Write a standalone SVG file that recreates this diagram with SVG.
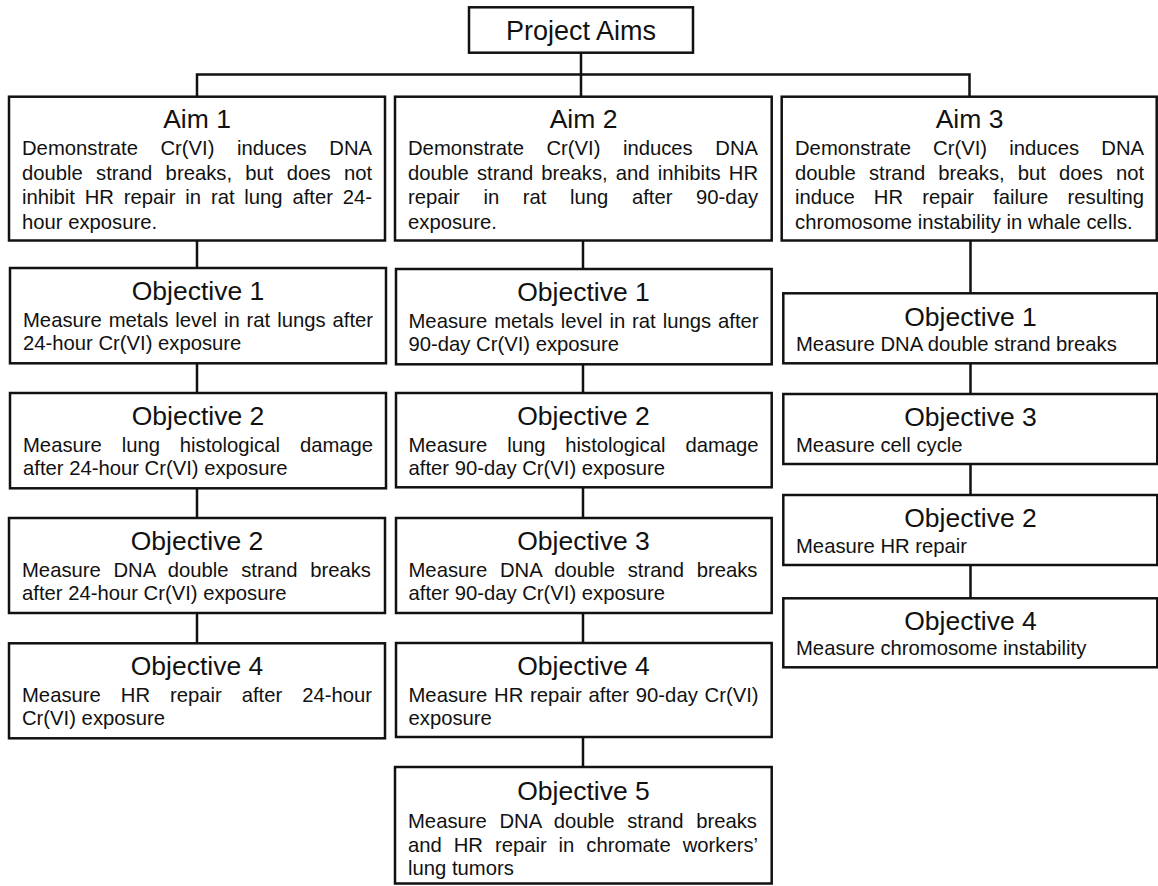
<svg xmlns="http://www.w3.org/2000/svg" width="1158" height="886" viewBox="0 0 1158 886">
<style>
.box{fill:#fff;stroke:#111;stroke-width:2.5}
.ln{fill:none;stroke:#111;stroke-width:2.5}
text{font-family:"Liberation Sans",Arial,sans-serif;fill:#111}
.t{font-size:26.5px;text-anchor:middle}
.pt{font-size:27px;text-anchor:middle}
.b{font-size:20.25px}
</style>
<rect width="1158" height="886" fill="#fff"/>
<g id="connectors">
<path class="ln" d="M581 52.7V96.7M197 96.7V74.5H969.5V96.7"/>
<path class="ln" d="M197 240.5V268M197 363.3V393M197 488.3V518M197 613V643"/>
<path class="ln" d="M583 240.5V269M583 364.3V393M583 487.3V518M583 613V643M583 738V767"/>
<path class="ln" d="M970.5 240.5V293.3M970.5 363.3V394M970.5 464V495M970.5 565V598.3"/>
</g>
<g id="project-aims">
<rect class="box" x="469" y="7.3" width="224" height="45.4"/>
<text class="pt" x="581" y="40">Project Aims</text>
</g>
<g id="aim1">
<rect class="box" x="9" y="96.7" width="376" height="143.8"/>
<text class="t" x="197" y="128">Aim 1</text>
<text class="b"><tspan x="22" y="155" word-spacing="16.89">Demonstrate Cr(VI) induces DNA</tspan><tspan x="22" y="179.5" word-spacing="7.64">double strand breaks, but does not</tspan><tspan x="22" y="204" word-spacing="4.18">inhibit HR repair in rat lung after 24-</tspan><tspan x="22" y="228.5">hour exposure.</tspan></text>
</g>
<g id="aim2">
<rect class="box" x="395" y="96.7" width="376.7" height="143.8"/>
<text class="t" x="583.5" y="128">Aim 2</text>
<text class="b"><tspan x="408" y="155" word-spacing="16.89">Demonstrate Cr(VI) induces DNA</tspan><tspan x="408" y="179.5" word-spacing="2.47">double strand breaks, and inhibits HR</tspan><tspan x="408" y="204" word-spacing="18.00">repair in rat lung after 90-day</tspan><tspan x="408" y="228.5">exposure.</tspan></text>
</g>
<g id="aim3">
<rect class="box" x="781.7" y="96.7" width="375" height="143.8"/>
<text class="t" x="969.5" y="128">Aim 3</text>
<text class="b"><tspan x="795" y="155" word-spacing="16.56">Demonstrate Cr(VI) induces DNA</tspan><tspan x="795" y="179.5" word-spacing="7.44">double strand breaks, but does not</tspan><tspan x="795" y="204" word-spacing="13.54">induce HR repair failure resulting</tspan><tspan x="795" y="228.5">chromosome instability in whale cells.</tspan></text>
</g>
<g id="a1-obj1">
<rect class="box" x="10" y="268" width="376" height="95.3"/>
<text class="t" x="198" y="300">Objective 1</text>
<text class="b"><tspan x="23" y="326.7" word-spacing="1.31">Measure metals level in rat lungs after</tspan><tspan x="23" y="350">24-hour Cr(VI) exposure</tspan></text>
</g>
<g id="a1-obj2">
<rect class="box" x="10" y="393" width="376" height="95.3"/>
<text class="t" x="198" y="425">Objective 2</text>
<text class="b"><tspan x="23" y="451.7" word-spacing="14.25">Measure lung histological damage</tspan><tspan x="23" y="475">after 24-hour Cr(VI) exposure</tspan></text>
</g>
<g id="a1-obj2b">
<rect class="box" x="9" y="518" width="376" height="95"/>
<text class="t" x="197" y="550">Objective 2</text>
<text class="b"><tspan x="22" y="576.7" word-spacing="7.03">Measure DNA double strand breaks</tspan><tspan x="22" y="600">after 24-hour Cr(VI) exposure</tspan></text>
</g>
<g id="a1-obj4">
<rect class="box" x="9" y="643.3" width="376" height="95"/>
<text class="t" x="197" y="674.5">Objective 4</text>
<text class="b"><tspan x="22" y="701.7" word-spacing="14.35">Measure HR repair after 24-hour</tspan><tspan x="22" y="725">Cr(VI) exposure</tspan></text>
</g>
<g id="a2-obj1">
<rect class="box" x="396" y="269" width="375.7" height="95.3"/>
<text class="t" x="583.5" y="301">Objective 1</text>
<text class="b"><tspan x="408.5" y="327.7" word-spacing="1.31">Measure metals level in rat lungs after</tspan><tspan x="408.5" y="351">90-day Cr(VI) exposure</tspan></text>
</g>
<g id="a2-obj2">
<rect class="box" x="396" y="393" width="375.7" height="94.3"/>
<text class="t" x="583.5" y="425">Objective 2</text>
<text class="b"><tspan x="408.5" y="451.7" word-spacing="14.25">Measure lung histological damage</tspan><tspan x="408.5" y="475">after 90-day Cr(VI) exposure</tspan></text>
</g>
<g id="a2-obj3">
<rect class="box" x="396" y="518" width="375.7" height="95"/>
<text class="t" x="583.5" y="550">Objective 3</text>
<text class="b"><tspan x="408.5" y="576.7" word-spacing="7.03">Measure DNA double strand breaks</tspan><tspan x="408.5" y="600">after 90-day Cr(VI) exposure</tspan></text>
</g>
<g id="a2-obj4">
<rect class="box" x="396" y="643" width="375.7" height="94"/>
<text class="t" x="583.5" y="674.5">Objective 4</text>
<text class="b"><tspan x="408.5" y="701.7" word-spacing="1.13">Measure HR repair after 90-day Cr(VI)</tspan><tspan x="408.5" y="725">exposure</tspan></text>
</g>
<g id="a2-obj5">
<rect class="box" x="395" y="767" width="376.7" height="116.5"/>
<text class="t" x="583.5" y="800">Objective 5</text>
<text class="b"><tspan x="408" y="828.3" word-spacing="7.03">Measure DNA double strand breaks</tspan><tspan x="408" y="851.7" word-spacing="6.31">and HR repair in chromate workers’</tspan><tspan x="408" y="875">lung tumors</tspan></text>
</g>
<g id="a3-obj1">
<rect class="box" x="783.3" y="293.3" width="374" height="70"/>
<text class="t" x="970.5" y="326">Objective 1</text>
<text class="b" x="796" y="350.7">Measure DNA double strand breaks</text>
</g>
<g id="a3-obj3">
<rect class="box" x="783.3" y="394" width="374" height="70"/>
<text class="t" x="970.5" y="426">Objective 3</text>
<text class="b" x="796" y="451.7">Measure cell cycle</text>
</g>
<g id="a3-obj2">
<rect class="box" x="783.3" y="495" width="374" height="70"/>
<text class="t" x="970.5" y="526.7">Objective 2</text>
<text class="b" x="796" y="552.7">Measure HR repair</text>
</g>
<g id="a3-obj4">
<rect class="box" x="783.3" y="598.3" width="374" height="69"/>
<text class="t" x="970.5" y="630">Objective 4</text>
<text class="b" x="796" y="655">Measure chromosome instability</text>
</g>
</svg>
